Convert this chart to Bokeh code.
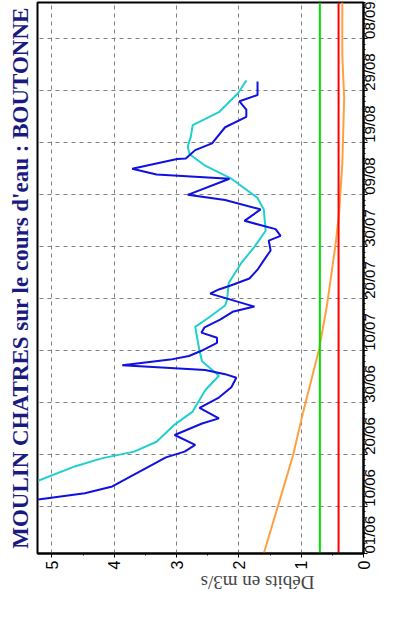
import math
from bokeh.plotting import figure
from bokeh.models import Range1d, FixedTicker, Title
from bokeh.embed import file_html
from bokeh.resources import INLINE

# days after 01/06
date_ticks = [0, 9, 19, 29, 39, 49, 59, 69, 79, 89, 99]
date_labels = ["01/06", "10/06", "20/06", "30/06", "10/07", "20/07", "30/07", "09/08", "19/08", "29/08", "08/09"]

blue_day = [10.4, 11.6, 12.9, 15.9, 18.5, 19.6, 20.9, 22.8, 25, 26, 28, 30, 32, 33.8, 34.5, 35.3, 36.2, 36.6, 37.3, 38, 39, 40.5, 41.5, 42.5, 43.5, 45, 46.5, 47.5,
            50, 50.8, 51.6, 52.9, 54.6, 56.4, 58.3, 60.2, 61.1, 62.4, 64, 66.2, 68, 69, 72.1, 72.9, 74, 75.9, 76, 77.6, 78.9, 82, 84, 85.4, 87, 88.2, 90.8]
blue_val = [5.22, 4.47, 4.03, 3.57, 3.17, 2.87, 2.70, 3.03, 2.59, 2.32, 2.63, 2.32, 2.12, 2.04, 2.22, 2.54, 3.87, 3.6, 3.1, 2.8, 2.6, 2.35, 2.35, 2.6, 2.55, 2.3, 2.1, 1.75,
            2.46, 2.32, 2.12, 1.83, 1.70, 1.60, 1.49, 1.52, 1.33, 1.41, 1.91, 1.65, 2.22, 2.82, 2.15, 3.32, 3.71, 2.99, 2.85, 2.70, 2.43, 2.22, 1.88, 1.88, 1.99, 1.70, 1.70]

cyan_day = [14, 16.8, 18.3, 19.6, 21.5, 24.8, 27.3, 31.4, 34.2, 37, 38.9, 43.6, 45.4, 47.7, 48.8, 52.1, 55.9, 59, 62.1, 66.2, 68.4, 72.1, 74.6, 76.8, 78.3, 80.2, 82.4, 84.9, 88.6, 91]
cyan_val = [5.22, 4.62, 4.20, 3.68, 3.32, 3.03, 2.74, 2.54, 2.32, 2.59, 2.63, 2.70, 2.48, 2.22, 2.19, 2.16, 1.96, 1.75, 1.57, 1.60, 1.70, 2.12, 2.54, 2.79, 2.82, 2.77, 2.74, 2.32, 2.01, 1.88]

orange_day = [0, 10.8, 18.9, 27.1, 39.4, 48.2, 60.2, 65.8, 75, 87.7, 95.7, 106]
orange_val = [1.60, 1.33, 1.13, 0.97, 0.71, 0.58, 0.44, 0.39, 0.34, 0.31, 0.34, 0.34]

green_level = 0.7
red_level = 0.4

p = figure(width=389, height=606, output_backend="svg", toolbar_location=None,
           x_range=Range1d(5.23, 0), y_range=Range1d(0, 106),
           y_axis_location="right", min_border_top=2, min_border_bottom=4,
           min_border_left=0, min_border_right=0)
p.outline_line_color = "black"
p.outline_line_width = 2

p.xaxis.ticker = FixedTicker(ticks=[0, 1, 2, 3, 4, 5], minor_ticks=[0.5, 1.5, 2.5, 3.5, 4.5])
p.yaxis.ticker = FixedTicker(ticks=date_ticks, minor_ticks=list(range(0, 107)))
p.yaxis.major_label_overrides = {t: l for t, l in zip(date_ticks, date_labels)}
for ax in (p.xaxis, p.yaxis):
    ax.major_label_orientation = math.pi / 2
    ax.major_label_text_font = "Liberation Sans"
    ax.major_label_text_font_size = "16px"
    ax.major_label_text_color = "black"
    ax.axis_line_color = "black"
    ax.axis_line_width = 2
    ax.major_tick_in = 0
    ax.major_tick_out = 4
    ax.minor_tick_in = 0
    ax.minor_tick_out = 2
p.yaxis.major_label_text_font_size = "15px"
p.yaxis.major_label_standoff = 2
p.xaxis.major_label_standoff = 3

xa = p.xaxis[0]
xa.axis_label = "Débits en m3/s"
xa.axis_label_text_font = "Liberation Serif"
xa.axis_label_text_font_style = "normal"
xa.axis_label_text_font_size = "19px"
xa.axis_label_standoff = 10
if "axis_label_orientation" in xa.properties():
    xa.axis_label_orientation = math.pi

p.grid.grid_line_color = "#808080"
p.grid.grid_line_dash = "4 4"
p.grid.grid_line_width = 1

p.line(orange_val, orange_day, line_color="#ffa040", line_width=2)
p.line([green_level, green_level], [0, 106], line_color="#00e000", line_width=2)
p.line([red_level, red_level], [0, 106], line_color="#ff0000", line_width=2)
p.line(cyan_val, cyan_day, line_color="#20d0d0", line_width=2)
p.line(blue_val, blue_day, line_color="#1010e0", line_width=2)

p.add_layout(Title(text="MOULIN CHATRES sur le cours d'eau : BOUTONNE", align="center",
                   text_font="Liberation Serif", text_font_style="bold",
                   text_font_size="23px", text_color="#1a1a80"), "left")

open("out.html", "w").write(file_html(p, INLINE))
